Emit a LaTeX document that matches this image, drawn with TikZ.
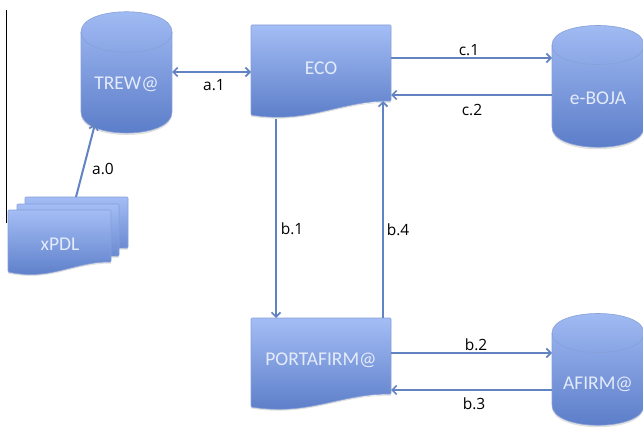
\documentclass[tikz,border=0pt]{standalone}
\usepackage{fontspec}
\setmainfont{Open Sans}
\newfontfamily\shapefont{Carlito}
\usetikzlibrary{arrows.meta}
\definecolor{linkblue}{HTML}{6283C2}
\definecolor{topblue}{HTML}{A4BDF5}
\definecolor{botblue}{HTML}{587AC6}
\definecolor{rimblue}{HTML}{86A0D8}
\definecolor{softtext}{HTML}{E4EBFA}
\tikzset{
  x=1pt,y=-1pt,
  body/.style={top color=topblue,bottom color=botblue,draw=rimblue,line width=0.6pt},
  halo/.style={fill=black!12,draw=none},
  holder/.style={draw=none,inner sep=0pt,outer sep=0pt,text=softtext,align=center,font=\shapefont\fontsize{19.5}{22}\selectfont},
  link/.style={draw=linkblue,line width=2pt,-{Straight Barb[length=4.5pt,width=9pt,line width=1.7pt]}},
  biglink/.style={draw=linkblue,line width=2pt,{Straight Barb[length=4.5pt,width=9pt,line width=1.7pt]}-{Straight Barb[length=4.5pt,width=9pt,line width=1.7pt]}},
  flowlabel/.style={text=black,inner sep=0pt,font=\fontsize{15.5}{18}\selectfont}
}
% #1 left, #2 right, #3 top, #4 rim centre, #5 side end, #6 bottom
\newcommand{\dbshape}[6]{%
  \path[halo] (#1,#5+2) .. controls (#1,#6+9) and (#2,#6+9) .. (#2,#5+2) -- (#2,#5) -- (#1,#5) -- cycle;
  \path[body] (#1,#4) .. controls (#1,#3-6) and (#2,#3-6) .. (#2,#4)
     -- (#2,#5) .. controls (#2,#6+7) and (#1,#6+7) .. (#1,#5) -- cycle;
  \draw[draw=rimblue,line width=0.6pt] (#1,#4) .. controls (#1,2*#4-#3+6) and (#2,2*#4-#3+6) .. (#2,#4);
}
% #1 left, #2 right, #3 top, #4 left bottom, #5 right bottom
\newcommand{\docshape}[5]{%
  \path[halo] (#1,#4+1.5) .. controls ({#1+0.42*(#2-#1)},#4+10.5) and ({#1+0.62*(#2-#1)},#5+1.5) .. (#2,#5+1.5) -- (#2,#5) -- (#1,#4) -- cycle;
  \path[body,rounded corners=1pt] (#1,#3) -- (#2,#3) -- (#2,#5)
     .. controls ({#1+0.62*(#2-#1)},#5) and ({#1+0.42*(#2-#1)},#4+9) .. (#1,#4) -- cycle;
}
\begin{document}
\begin{tikzpicture}
\clip (0,0) rectangle (643,428);
\fill[white] (0,0) rectangle (643,428);
\draw[black,line width=0.9pt] (6.5,10) -- (6.5,223);

\dbshape{81}{172}{11}{32}{112}{133}
\dbshape{552}{644}{25}{45}{127}{147}
\dbshape{552}{644}{313}{333}{405}{425}
\docshape{251}{391}{25}{115}{101}
\docshape{251}{391}{318}{407}{394}
\docshape{25}{128}{197}{255}{248}
\docshape{17}{119}{204}{263}{256}
\docshape{8}{111}{210}{272}{262}

\node[holder,minimum width=91pt,minimum height=122pt] (trew) at (126.5,72) {\raisebox{-17.5pt}[0pt][0pt]{TREW@}};
\node[holder,minimum width=92pt,minimum height=122pt] (eboja) at (598,86) {\raisebox{-18.5pt}[0pt][0pt]{e-BOJA}};
\node[holder,minimum width=92pt,minimum height=112pt] (afirm) at (598,369) {\raisebox{-20.5pt}[0pt][0pt]{AFIRM@}};
\node[holder,minimum width=140pt,minimum height=94pt] (eco) at (321,72) {\raisebox{-2pt}[0pt][0pt]{ECO}};
\node[holder,minimum width=140pt,minimum height=93pt] (porta) at (321,364.5) {\raisebox{-0.5pt}[0pt][0pt]{PORTAFIRM@}};
\node[holder,minimum width=120pt,minimum height=75pt] (xpdl) at (68,234.5) {\hspace*{-16pt}\raisebox{-15.5pt}[0pt][0pt]{xPDL}};

\draw[link] ([xshift=8]xpdl.north) -- ([xshift=-31.5,yshift=9]trew.south);
\draw[biglink] (trew.east) -- (eco.west);
\draw[link] ([yshift=14]eco.east) -- ([yshift=28]eboja.west);
\draw[link] ([yshift=-9]eboja.west) -- ([yshift=-23]eco.east);
\draw[link] ([xshift=-45]eco.south) -- ([xshift=-45]porta.north);
\draw[link] ([xshift=62]porta.north) -- ([xshift=62,yshift=18]eco.south);
\draw[link] ([yshift=11.5]porta.east) -- ([yshift=16]afirm.west);
\draw[link] ([yshift=-21]afirm.west) -- ([yshift=-25.5]porta.east);

\node[flowlabel] (la0) at (103,169) {a.0};
\node[flowlabel] (la1) at (214,85) {a.1};
\node[flowlabel] (lb1) at (292,229) {b.1};
\node[flowlabel] (lb4) at (398,230) {b.4};
\node[flowlabel] (lc1) at (469,50) {c.1};
\node[flowlabel] (lc2) at (472,110) {c.2};
\node[flowlabel] (lb2) at (476,345) {b.2};
\node[flowlabel] (lb3) at (474,404) {b.3};
\end{tikzpicture}
\end{document}
